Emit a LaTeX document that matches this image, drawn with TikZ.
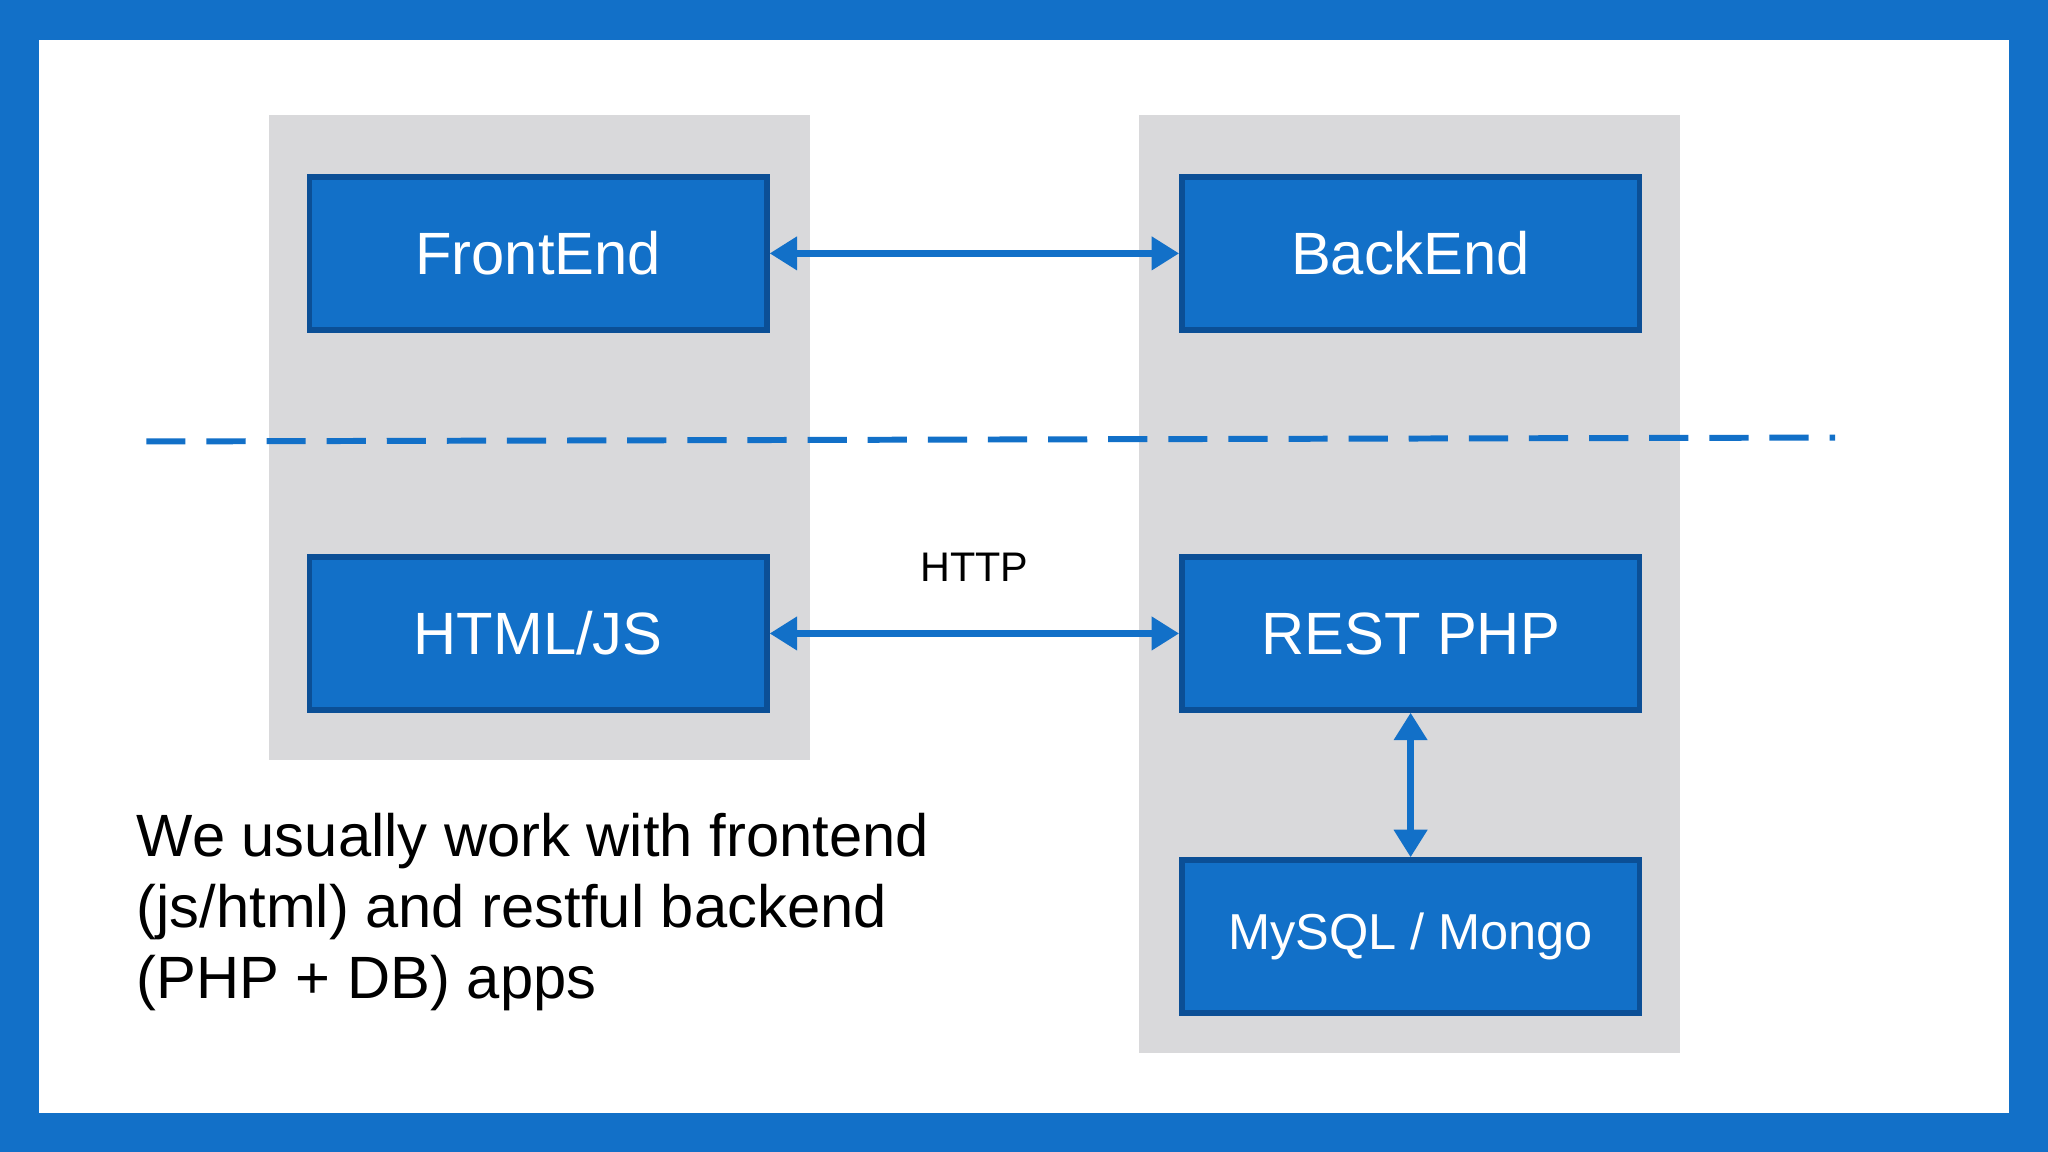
\documentclass[tikz,border=0pt]{standalone}
\usepackage{fontspec}
\setmainfont{Liberation Sans}
\usetikzlibrary{positioning,arrows.meta}
\definecolor{slideblue}{HTML}{1270C8}
\definecolor{boxedge}{HTML}{0B4F96}
\definecolor{panelgray}{HTML}{D9D9DB}
\begin{document}
\begin{tikzpicture}[x=0.01cm, y=-0.01cm,
    block/.style={rectangle, draw=boxedge, line width=1.2pt, fill=slideblue, text=white, minimum width=3.5cm, minimum height=1.17cm, font=\fontsize{13}{15}\selectfont},
    arrow/.style={line width=1.6pt, draw=slideblue, {Triangle[width=7pt,length=6pt]}-{Triangle[width=7pt,length=6pt]}}]

    % slide frame and panels
    \fill[slideblue] (0,0) rectangle (1568,882);
    \fill[white] (30,31) rectangle (1538,852);
    \fill[panelgray] (206,88) rectangle (620,582);
    \fill[panelgray] (872,88) rectangle (1286,806);

    \node[block] (front) at (412,194) {FrontEnd};
    \node[block] (back) at (1080,194) {BackEnd};
    \node[block] (html) at (412,485) {HTML/JS};
    \node[block] (rest) at (1080,485) {REST PHP};
    \node[block, font=\fontsize{11}{13}\selectfont] (db) at (1080,717) {MySQL / Mongo};

    \draw[arrow] (front) -- (back);
    \draw[arrow] (html) -- node[above=0.25cm, font=\fontsize{9}{11}\selectfont] (http) {HTTP} (rest);
    \draw[arrow] (rest) -- (db);

    % layer separator
    \coordinate (sepl) at (112,338);
    \coordinate (sepr) at (1405,335);
    \draw[slideblue, line width=1.3pt, dash pattern=on 0.3cm off 0.16cm] (sepl) -- (sepr);

    \node[anchor=north west, align=left, font=\fontsize{13}{15.5}\selectfont, inner sep=0pt] (note) at (104,622)
      {We usually work with frontend\\(js/html) and restful backend\\(PHP + DB) apps};
\end{tikzpicture}
\end{document}
